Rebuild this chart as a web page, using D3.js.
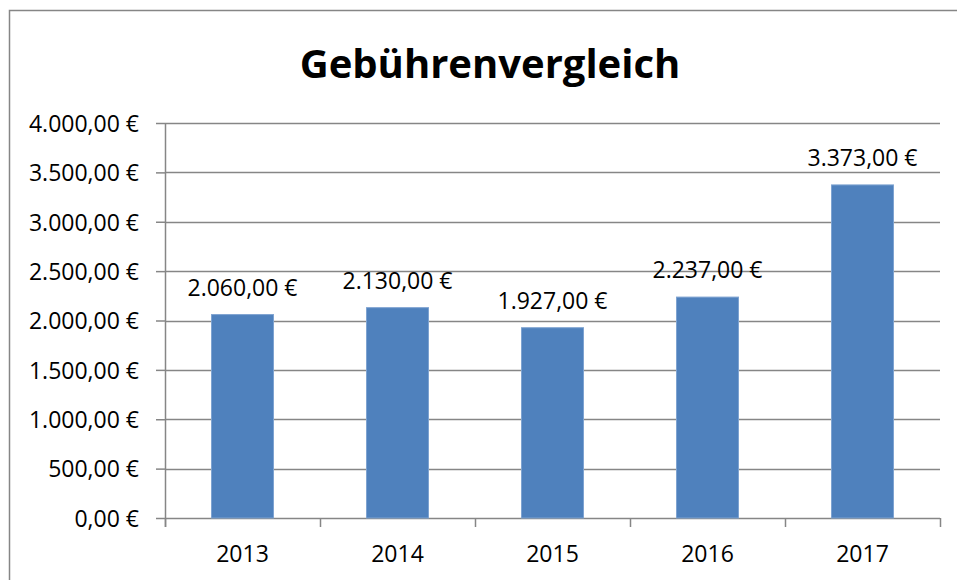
<!DOCTYPE html>
<html>
<head>
<meta charset="utf-8">
<script src="https://cdn.jsdelivr.net/npm/d3@7"></script>
<style>
  body { margin: 0; background: #fff; }
  svg { display: block; }
  text { font-family: "Open Sans", "Liberation Sans", sans-serif; fill: #000; }
</style>
</head>
<body>
<svg id="chart" width="957" height="580"></svg>
<script>
var years = ["2013", "2014", "2015", "2016", "2017"];
var fees = [2060, 2130, 1927, 2237, 3373];
var yTicks = [0, 500, 1000, 1500, 2000, 2500, 3000, 3500, 4000];

var width = 957, height = 580;
var margin = {top: 123, right: 17, bottom: 62, left: 165};
var plotW = width - margin.left - margin.right,
    plotH = height - margin.top - margin.bottom;

var de = d3.formatLocale({decimal: ",", thousands: ".", grouping: [3], currency: ["", " €"]});
var euro = de.format("$,.2f");

var svg = d3.select("#chart");

// outer chart border (right/bottom sit outside the picture)
svg.append("rect")
    .attr("x", 9.5).attr("y", 10.5)
    .attr("width", 990).attr("height", 620)
    .attr("fill", "none")
    .attr("stroke", "#868686")
    .attr("stroke-width", 1.5);

svg.append("text")
    .attr("x", 490)
    .attr("y", 78)
    .attr("text-anchor", "middle")
    .style("font-size", "40px")
    .style("font-weight", "bold")
    .text("Gebührenvergleich");

var g = svg.append("g")
    .attr("transform", "translate(" + margin.left + "," + margin.top + ")");

var x = d3.scaleBand()
    .domain(years)
    .range([0, plotW])
    .paddingInner(0.6)
    .paddingOuter(0.3);

var y = d3.scaleLinear()
    .domain([0, 4000])
    .range([plotH, 0]);

// gridlines
g.append("g")
    .selectAll("line")
    .data(yTicks.slice(1))
    .enter().append("line")
    .attr("x1", 0).attr("x2", plotW)
    .attr("y1", function(d) { return Math.round(y(d)) + 0.5; })
    .attr("y2", function(d) { return Math.round(y(d)) + 0.5; })
    .attr("stroke", "#868686")
    .attr("stroke-width", 1.5);

var yAxis = d3.axisLeft(y)
    .tickValues(yTicks)
    .tickSize(9)
    .tickPadding(17)
    .tickFormat(euro);

var yg = g.append("g").attr("class", "y-axis").call(yAxis);
yg.select(".domain").attr("stroke", "#868686").attr("stroke-width", 1.5)
    .attr("d", "M0.5," + (plotH + 9) + "V0.5");
yg.selectAll(".tick line").attr("stroke", "#868686").attr("stroke-width", 1.5);
yg.selectAll(".tick text").style("font-size", "23px").attr("dy", "0.36em");

// x axis with ticks on category boundaries
var xg = g.append("g")
    .attr("class", "x-axis")
    .attr("transform", "translate(0," + plotH + ")");
xg.append("line")
    .attr("x1", 0).attr("x2", plotW)
    .attr("y1", 0.5).attr("y2", 0.5)
    .attr("stroke", "#868686")
    .attr("stroke-width", 1.5);
var step = x.step();
var bounds = d3.range(years.length + 1).map(function(i) { return i * step; });
xg.selectAll("line.bound")
    .data(bounds)
    .enter().append("line")
    .attr("class", "bound")
    .attr("x1", function(d) { return Math.round(d) + 0.5; })
    .attr("x2", function(d) { return Math.round(d) + 0.5; })
    .attr("y1", 0).attr("y2", 9)
    .attr("stroke", "#868686")
    .attr("stroke-width", 1.5);
xg.selectAll("text")
    .data(years)
    .enter().append("text")
    .attr("x", function(d) { return x(d) + x.bandwidth() / 2; })
    .attr("y", 44)
    .attr("text-anchor", "middle")
    .style("font-size", "23px")
    .text(function(d) { return d; });

// bars
g.selectAll("rect.bar")
    .data(fees)
    .enter().append("rect")
    .attr("class", "bar")
    .attr("x", function(d, i) { return x(years[i]); })
    .attr("y", function(d) { return y(d); })
    .attr("width", x.bandwidth())
    .attr("height", function(d) { return plotH - y(d); })
    .attr("fill", "#4F81BD")
    .attr("stroke", "#7EA3D1")
    .attr("stroke-width", 1);

// data labels
g.selectAll("text.label")
    .data(fees)
    .enter().append("text")
    .attr("class", "label")
    .attr("x", function(d, i) { return x(years[i]) + x.bandwidth() / 2; })
    .attr("y", function(d) { return y(d) - 19; })
    .attr("text-anchor", "middle")
    .style("font-size", "23px")
    .text(function(d) { return euro(d); });
</script>
</body>
</html>
